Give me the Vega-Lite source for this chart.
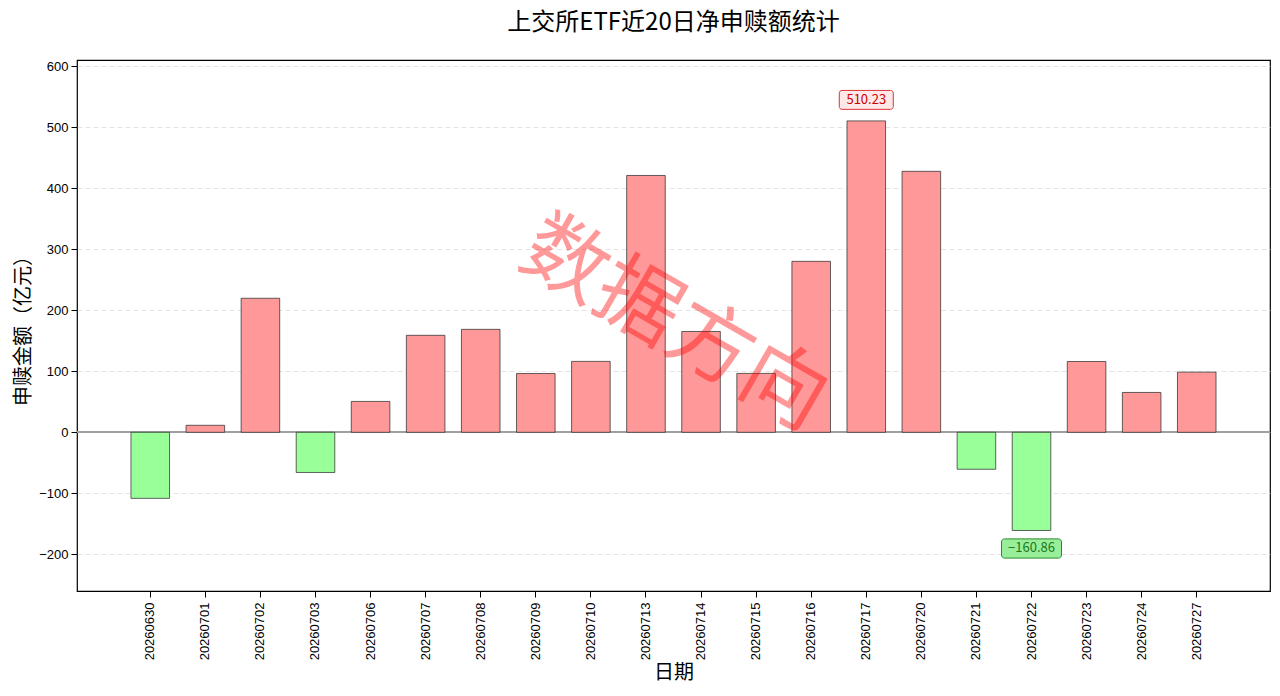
{
  "$schema": "https://vega.github.io/schema/vega-lite/v6.json",
  "width": 1193,
  "height": 531,
  "autosize": {"type": "none"},
  "padding": {"left": 77, "top": 60, "right": 10, "bottom": 105},
  "background": "white",
  "title": {
    "text": "上交所ETF近20日净申赎额统计",
    "font": "Noto Sans CJK SC",
    "fontSize": 24,
    "fontWeight": "normal",
    "color": "#000000",
    "anchor": "middle",
    "offset": 25
  },
  "config": {
    "view": {"stroke": "#000000", "strokeWidth": 1.2},
    "axis": {
      "labelFont": "Liberation Sans",
      "labelFontSize": 13,
      "labelColor": "#000000",
      "titleFont": "Noto Sans CJK SC",
      "titleFontSize": 20,
      "titleFontWeight": "normal",
      "titleColor": "#000000",
      "tickColor": "#000000",
      "tickSize": 6,
      "domain": false
    }
  },
  "data": {
    "values": [
      {"date": "20260630", "value": -108.2},
      {"date": "20260701", "value": 11.5},
      {"date": "20260702", "value": 219.6},
      {"date": "20260703", "value": -65.8},
      {"date": "20260706", "value": 50.6},
      {"date": "20260707", "value": 158.9},
      {"date": "20260708", "value": 168.7},
      {"date": "20260709", "value": 96.3},
      {"date": "20260710", "value": 116.2},
      {"date": "20260713", "value": 420.8},
      {"date": "20260714", "value": 165.2},
      {"date": "20260715", "value": 96.5},
      {"date": "20260716", "value": 280.1},
      {"date": "20260717", "value": 510.23},
      {"date": "20260720", "value": 427.6},
      {"date": "20260721", "value": -60.5},
      {"date": "20260722", "value": -160.86},
      {"date": "20260723", "value": 116.0},
      {"date": "20260724", "value": 65.3},
      {"date": "20260727", "value": 98.6}
    ]
  },
  "encoding": {
    "x": {
      "field": "date",
      "type": "nominal",
      "sort": null,
      "title": "日期",
      "scale": {"paddingInner": 0.3, "paddingOuter": 0.98},
      "axis": {"labelAngle": -90, "labelPadding": 5, "titlePadding": 3, "grid": false}
    },
    "y": {
      "field": "value",
      "type": "quantitative",
      "title": "申赎金额（亿元）",
      "scale": {"domain": [-260, 610], "nice": false, "zero": false},
      "axis": {
        "values": [-200, -100, 0, 100, 200, 300, 400, 500, 600],
        "grid": true,
        "gridColor": "#dddddd",
        "gridDash": [5, 3],
        "gridWidth": 0.8,
        "titlePadding": 5,
        "labelPadding": 3
      }
    }
  },
  "layer": [
    {
      "mark": {"type": "rule", "color": "#a0a0a0", "strokeWidth": 1},
      "encoding": {"y": {"datum": 0, "type": "quantitative"}, "x": {"value": 0}, "x2": {"value": 1193}}
    },
    {
      "mark": {"type": "bar", "stroke": "#333333", "strokeWidth": 0.9, "strokeOpacity": 0.85},
      "encoding": {
        "fill": {"condition": {"test": "datum.value >= 0", "value": "#FF9999"}, "value": "#99FF99"}
      }
    },
    {
      "transform": [{"filter": "datum.value == 510.23"}],
      "mark": {
        "type": "point",
        "filled": true,
        "shape": "M-0.9,-0.35H0.9A0.1,0.1 0 0 1 1,-0.25V0.25A0.1,0.1 0 0 1 0.9,0.35H-0.9A0.1,0.1 0 0 1 -1,0.25V-0.25A0.1,0.1 0 0 1 -0.9,-0.35Z",
        "size": 2916,
        "fill": "#ffe8e8",
        "stroke": "#dd3333",
        "strokeWidth": 1,
        "opacity": 1,
        "yOffset": -21
      }
    },
    {
      "transform": [{"filter": "datum.value == 510.23"}],
      "mark": {"type": "text", "font": "Noto Sans CJK SC", "fontSize": 13, "color": "#cc0000", "yOffset": -21, "baseline": "middle"},
      "encoding": {"text": {"field": "value", "type": "quantitative", "format": ".2f"}}
    },
    {
      "transform": [{"filter": "datum.value == -160.86"}],
      "mark": {
        "type": "point",
        "filled": true,
        "shape": "M-0.9,-0.32H0.9A0.1,0.1 0 0 1 1,-0.22V0.22A0.1,0.1 0 0 1 0.9,0.32H-0.9A0.1,0.1 0 0 1 -1,0.22V-0.22A0.1,0.1 0 0 1 -0.9,-0.32Z",
        "size": 3600,
        "fill": "#99ee99",
        "stroke": "#2a8a2a",
        "strokeWidth": 1,
        "opacity": 1,
        "yOffset": 18
      }
    },
    {
      "transform": [{"filter": "datum.value == -160.86"}],
      "mark": {"type": "text", "font": "Noto Sans CJK SC", "fontSize": 13, "color": "#1a7a1a", "yOffset": 18, "baseline": "middle"},
      "encoding": {"text": {"field": "value", "type": "quantitative", "format": ".2f"}}
    },
    {
      "data": {"values": [{"wm": "数据方向"}]},
      "mark": {
        "type": "text",
        "x": {"expr": "width/2"},
        "y": {"expr": "height/2"},
        "angle": 30,
        "font": "Noto Sans CJK SC",
        "fontSize": 84,
        "color": "#ff0000",
        "opacity": 0.4,
        "align": "center",
        "baseline": "middle"
      },
      "encoding": {"text": {"field": "wm"}, "x": null, "y": null}
    }
  ]
}
